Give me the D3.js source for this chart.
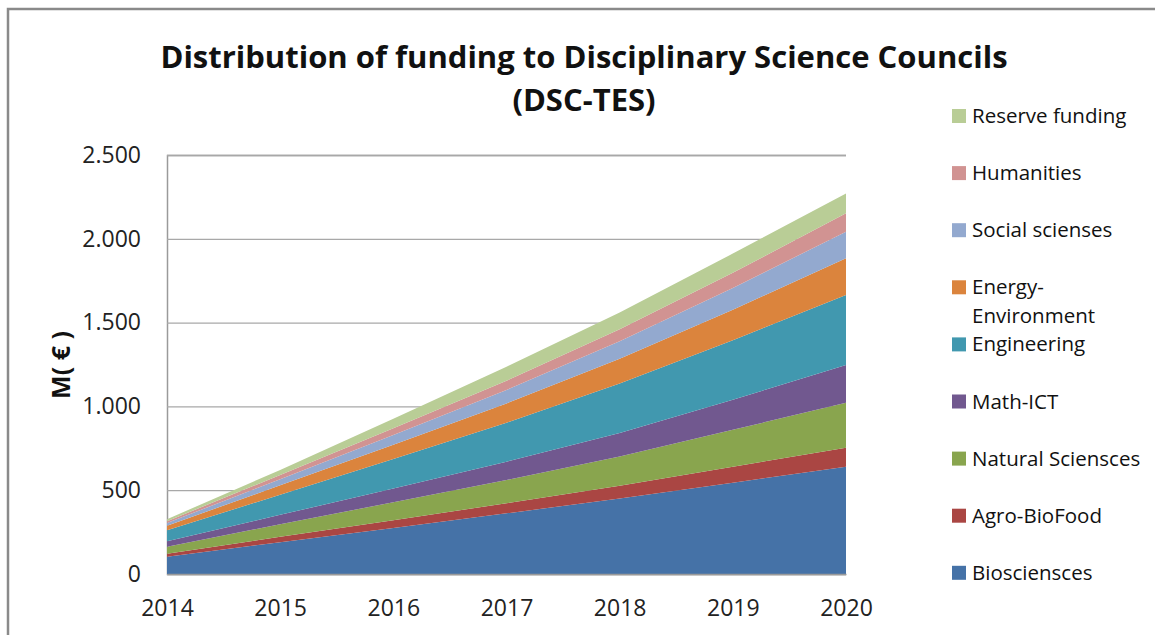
<!DOCTYPE html>
<html>
<head>
	<title>Distribution of funding</title>
	<meta http-equiv="Content-Type" content="text/html; charset=utf-8" />
	<script type="text/javascript" charset="utf-8" src="https://cdn.jsdelivr.net/npm/d3@7/dist/d3.min.js"></script>
	<style type="text/css">
	body {
	  margin: 0;
	  background-color: #fff;
	  font-family: 'Open Sans', sans-serif;
	}
	</style>
</head>
<body>

	<svg width="1155" height="635" version="1.1" xmlns="http://www.w3.org/2000/svg"></svg>

<script type="text/javascript">

var v_Years  = [2014 ,2015 ,2016 ,2017 ,2018 ,2019 ,2020];

var v_Series = ["Biosciensces" ,"Agro-BioFood" ,"Natural Sciensces" ,"Math-ICT" ,"Engineering"
               ,"Energy-Environment" ,"Social scienses" ,"Humanities" ,"Reserve funding"];

var v_Biosciences = [103 ,190 ,275 ,362 ,450 ,545 ,640];
var v_AgroBioFood = [ 18 , 32 , 46 , 60 , 76 , 95 ,114];
var v_Natural     = [ 42 , 75 ,107 ,139 ,175 ,220 ,268];
var v_MathICT     = [ 32 , 56 , 82 ,109 ,140 ,180 ,225];
var v_Engineering = [ 66 ,120 ,176 ,233 ,295 ,355 ,418];
var v_Energy      = [ 27 , 56 , 85 ,115 ,148 ,182 ,219];
var v_Social      = [ 16 , 37 , 58 , 80 ,105 ,130 ,158];
var v_Humanities  = [ 11 , 25 , 40 , 55 , 72 , 90 ,110];
var v_Reserve     = [ 12 , 30 , 58 , 84 ,100 ,115 ,119];

var v_YTicks = [0 ,500 ,1000 ,1500 ,2000 ,2500];

var v_Colors = ["#4572A7" ,"#AA4643" ,"#89A54E" ,"#71588F" ,"#4198AF"
               ,"#DB843D" ,"#93A9CF" ,"#D19392" ,"#B9CD96"];

var v_Values = [v_Biosciences ,v_AgroBioFood ,v_Natural ,v_MathICT ,v_Engineering
               ,v_Energy ,v_Social ,v_Humanities ,v_Reserve];

<!-- rows for d3.stack -->
var v_Rows = v_Years.map(function(y ,i)
{
	var v_Row = {"year" : y};
	v_Series.forEach(function(s ,k) { v_Row[s] = v_Values[k][i]; });
	return v_Row;
});

var m = {left:167 ,right:846 ,top:155 ,bottom:574};

var v_SVG = d3.select("svg");

<!-- outer frame -->
v_SVG.append("rect")
.attr("x" ,8)
.attr("y" ,9)
.attr("width" ,1200)
.attr("height" ,700)
.attr("fill" ,"white")
.attr("stroke" ,"#8a8a8a")
.attr("stroke-width" ,2.5);

var v_X = d3.scaleLinear().domain([2014 ,2020]).range([m.left ,m.right]);
var v_Y = d3.scaleLinear().domain([0 ,2500]).range([m.bottom ,m.top]);

var v_Locale = d3.formatLocale({decimal:"," ,thousands:"." ,grouping:[3] ,currency:["" ,"€"]});
var v_Fmt    = v_Locale.format(",d");

<!-- gridlines + y axis -->
var v_YAxis = v_SVG.append("g")
.attr("transform" ,"translate(" + m.left + ",0)")
.call(d3.axisLeft(v_Y).tickValues(v_YTicks).tickFormat(v_Fmt)
      .tickSize(-(m.right - m.left)).tickPadding(26));

v_YAxis.select(".domain").attr("stroke" ,"#9a9a9a").attr("stroke-width" ,1.5);
v_YAxis.selectAll(".tick line").attr("stroke" ,"#a8a8a8").attr("stroke-width" ,1.3);
v_YAxis.selectAll(".tick text")
.attr("font-family" ,"'Open Sans', sans-serif")
.attr("font-size" ,23)
.attr("fill" ,"#222");

<!-- stacked areas -->
var v_Stack = d3.stack().keys(v_Series)(v_Rows);

var v_Area = d3.area()
.x(function(d) { return v_X(d.data.year); })
.y0(function(d) { return v_Y(d[0]); })
.y1(function(d) { return v_Y(d[1]); });

v_SVG.append("g").selectAll("path")
.data(v_Stack)
.enter()
.append("path")
.attr("d" ,v_Area)
.attr("fill" ,function(d ,i) { return v_Colors[i]; });

<!-- x axis -->
var v_XAxis = v_SVG.append("g")
.attr("transform" ,"translate(0," + m.bottom + ")")
.call(d3.axisBottom(v_X).tickValues(v_Years).tickFormat(d3.format("d")).tickSize(0).tickPadding(26));

v_XAxis.select(".domain").attr("stroke" ,"#9a9a9a").attr("stroke-width" ,1.5);
v_XAxis.selectAll(".tick text")
.attr("font-family" ,"'Open Sans', sans-serif")
.attr("font-size" ,23)
.attr("fill" ,"#222");

<!-- y title -->
v_SVG.append("text")
.attr("transform" ,"translate(70,365) rotate(-90)")
.attr("text-anchor" ,"middle")
.attr("font-size" ,25)
.attr("font-weight" ,"bold")
.attr("fill" ,"#111")
.text("M( € )");

<!-- title -->
var v_Title = v_SVG.append("text")
.attr("text-anchor" ,"middle")
.attr("font-size" ,31)
.attr("font-weight" ,"bold")
.attr("fill" ,"#111");

v_Title.append("tspan").attr("x" ,584).attr("y" ,68).text("Distribution of funding to Disciplinary Science Councils");
v_Title.append("tspan").attr("x" ,584).attr("y" ,111).text("(DSC-TES)");

<!-- legend, top item = last series -->
var v_Legend = v_SVG.append("g").selectAll("g")
.data(v_Series.slice().reverse())
.enter()
.append("g")
.attr("transform" ,function(d ,i) { return "translate(952," + (116 + i * 57.1) + ")"; });

v_Legend.append("rect")
.attr("x" ,0)
.attr("y" ,-7)
.attr("width" ,14)
.attr("height" ,14)
.attr("fill" ,function(d ,i) { return v_Colors[v_Series.length - 1 - i]; });

v_Legend.append("text")
.attr("x" ,20)
.attr("y" ,7)
.attr("font-size" ,20.5)
.attr("fill" ,"#111")
.each(function(d)
{
	var v_Text = d3.select(this);
	if ( d == "Energy-Environment" )
	{
		v_Text.append("tspan").attr("x" ,20).attr("dy" ,0).text("Energy-");
		v_Text.append("tspan").attr("x" ,20).attr("dy" ,29).text("Environment");
	}
	else
	{
		v_Text.text(d);
	}
});

</script>

</body>
</html>
